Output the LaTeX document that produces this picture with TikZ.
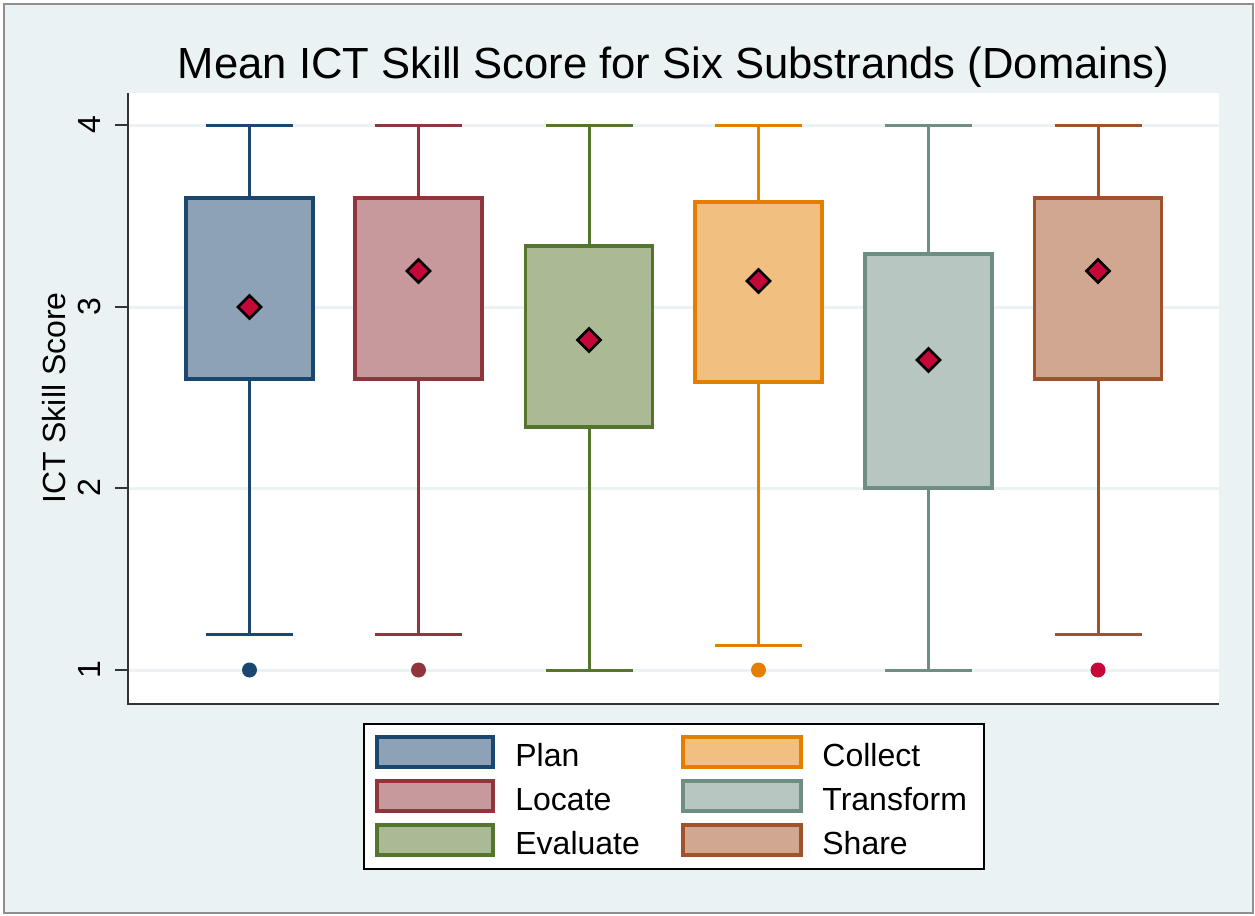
\documentclass[tikz,border=0pt]{standalone}
\usepackage{fontspec}
\setmainfont{Liberation Sans}
\usepackage{xcolor}
\usepackage{tikz}

\definecolor{plotbg}{HTML}{EAF2F3}
\definecolor{framegray}{HTML}{8F8F8F}
\definecolor{axisgray}{HTML}{333333}
\definecolor{meanred}{HTML}{C40838}
\definecolor{planline}{HTML}{1A476F}   \definecolor{planfill}{HTML}{8DA2B7}
\definecolor{locline}{HTML}{90353B}    \definecolor{locfill}{HTML}{C8999C}
\definecolor{evalline}{HTML}{55752F}   \definecolor{evalfill}{HTML}{AABA95}
\definecolor{collline}{HTML}{E37E00}   \definecolor{collfill}{HTML}{F1BF80}
\definecolor{transline}{HTML}{6E8E84}  \definecolor{transfill}{HTML}{B7C6C1}
\definecolor{shareline}{HTML}{A0522D}  \definecolor{sharefill}{HTML}{D0A891}

\tikzset{
  boxbody/.style={line width=1.6pt},
  whisker/.style={line width=1.5pt},
  gridline/.style={plotbg, line width=1.5pt},
  axisline/.style={axisgray, line width=1pt},
  meanmark/.style={fill=meanred, draw=black, line width=1.4pt, line join=miter},
  ticklab/.style={rotate=90, anchor=base, inner sep=0pt, font=\fontsize{16}{18}\selectfont},
  legtext/.style={anchor=base west, inner sep=0pt, font=\fontsize{16}{18}\selectfont},
}

% mean marker: diamond centred on (#1,#2)
\newcommand{\meanat}[2]{\draw[meanmark] (#1,#2) +(0,-11.5) -- +(11.5,0) -- +(0,11.5) -- +(-11.5,0) -- cycle;}

\begin{document}
\begin{tikzpicture}[x=0.5pt, y=-0.5pt]
\useasboundingbox (0,0) rectangle (1255,916);
\fill[white] (0,0) rectangle (1255,916);

% graph region and plot region
\draw[framegray, fill=plotbg, line width=1.2pt] (4,4) rectangle (1253,913);
\fill[white] (128,93) rectangle (1219,704);

% grid lines
\draw[gridline] (128,125) -- (1219,125);
\draw[gridline] (128,307) -- (1219,307);
\draw[gridline] (128,488) -- (1219,488);
\draw[gridline] (128,670) -- (1219,670);

% axes and ticks
\draw[axisline] (128,93) -- (128,704) -- (1219,704);
\draw[axisline] (115,125) -- (128,125);
\draw[axisline] (115,307) -- (128,307);
\draw[axisline] (115,488) -- (128,488);
\draw[axisline] (115,670) -- (128,670);

\node[ticklab] (t4) at (100,125) {4};
\node[ticklab] (t3) at (100,307) {3};
\node[ticklab] (t2) at (100,488) {2};
\node[ticklab] (t1) at (100,670) {1};
\node[ticklab] (ytitle) at (65,398) {ICT Skill Score};

\node[anchor=base, inner sep=0pt, font=\fontsize{21.8}{26}\selectfont] (title) at (673.5,78) {Mean ICT Skill Score for Six Substrands (Domains)};

% Plan
\draw[whisker, planline] (249.5,198) -- (249.5,125) (206,125) -- (293,125);
\draw[whisker, planline] (249.5,379) -- (249.5,634) (206,634) -- (293,634);
\draw[boxbody, draw=planline, fill=planfill] (186,198) rectangle (313,379);
\fill[planline] (249.5,670) circle (7.5);
\meanat{249.5}{307}

% Locate
\draw[whisker, locline] (418.5,198) -- (418.5,125) (375,125) -- (462,125);
\draw[whisker, locline] (418.5,379) -- (418.5,634) (375,634) -- (462,634);
\draw[boxbody, draw=locline, fill=locfill] (355,198) rectangle (482,379);
\fill[locline] (418.5,670) circle (7.5);
\meanat{418.5}{271}

% Evaluate
\draw[whisker, evalline] (589,246) -- (589,125) (545.5,125) -- (632.5,125);
\draw[whisker, evalline] (589,427) -- (589,670) (545.5,670) -- (632.5,670);
\draw[boxbody, draw=evalline, fill=evalfill] (525.5,246) rectangle (652.5,427);
\meanat{589}{340}

% Collect
\draw[whisker, collline] (758.5,202) -- (758.5,125) (715,125) -- (802,125);
\draw[whisker, collline] (758.5,382) -- (758.5,645) (715,645) -- (802,645);
\draw[boxbody, draw=collline, fill=collfill] (695,202) rectangle (822,382);
\fill[collline] (758.5,670) circle (7.5);
\meanat{758.5}{281}

% Transform
\draw[whisker, transline] (928.5,254) -- (928.5,125) (885,125) -- (972,125);
\draw[whisker, transline] (928.5,488) -- (928.5,670) (885,670) -- (972,670);
\draw[boxbody, draw=transline, fill=transfill] (865,254) rectangle (992,488);
\meanat{928.5}{360}

% Share
\draw[whisker, shareline] (1098,198) -- (1098,125) (1054.5,125) -- (1141.5,125);
\draw[whisker, shareline] (1098,379) -- (1098,634) (1054.5,634) -- (1141.5,634);
\draw[boxbody, draw=shareline, fill=sharefill] (1034.5,198) rectangle (1161.5,379);
\fill[meanred] (1098,670) circle (7.5);
\meanat{1098}{271}

% legend
\draw[black, fill=white, line width=1pt] (364,724) rectangle (984,869);
\draw[boxbody, draw=planline, fill=planfill]   (377,737) rectangle (493,767);
\draw[boxbody, draw=locline, fill=locfill]     (377,781) rectangle (493,811);
\draw[boxbody, draw=evalline, fill=evalfill]   (377,825) rectangle (493,855);
\draw[boxbody, draw=collline, fill=collfill]   (683,737) rectangle (801,767);
\draw[boxbody, draw=transline, fill=transfill] (683,781) rectangle (801,811);
\draw[boxbody, draw=shareline, fill=sharefill] (683,825) rectangle (801,855);
\node[legtext] (lplan)  at (515,766) {Plan};
\node[legtext] (lloc)   at (515,810) {Locate};
\node[legtext] (leval)  at (515,854) {Evaluate};
\node[legtext] (lcoll)  at (822,766) {Collect};
\node[legtext] (ltrans) at (822,810) {Transform};
\node[legtext] (lshare) at (822,854) {Share};
\end{tikzpicture}
\end{document}
